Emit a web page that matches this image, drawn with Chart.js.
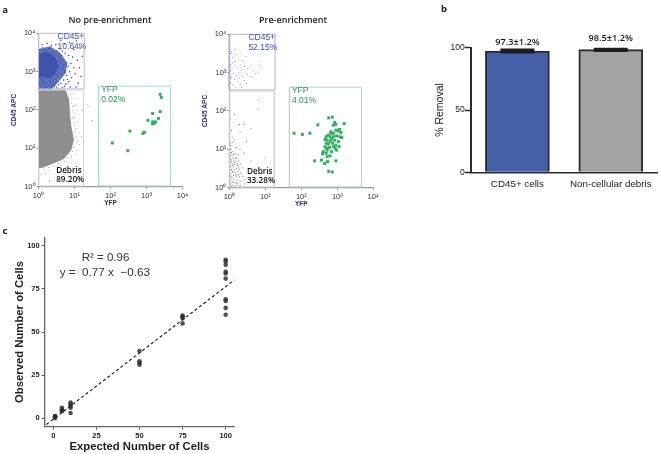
<!DOCTYPE html>
<html><head><meta charset="utf-8">
<style>
html,body{margin:0;padding:0;background:#fff;width:660px;height:454px;overflow:hidden}
canvas{position:absolute}
.t{position:absolute;white-space:nowrap;transform:translate(-50%,-50%);color:#1a1a1a}
</style>
<script src="https://cdn.jsdelivr.net/npm/chart.js@4"></script>
</head><body>
<canvas id="a1" width="195" height="205" style="left:0;top:10px"></canvas>
<canvas id="a2" width="195" height="205" style="left:195px;top:10px"></canvas>
<canvas id="b" width="235" height="180" style="left:425px;top:20px"></canvas>
<canvas id="c" width="245" height="229" style="left:0;top:225px"></canvas>
<script>
/* Flow cytometry values are log10 fluorescence */
const decadeTicks=[0,1,2,3,4];
const decadeLabels=["10⁰","10¹","10²","10³","10⁴"];
const gateCD45=[[0,2.55],[1.27,2.55],[1.27,4],[0,4],[0,2.55]];
const gateDebris=[[0,2.52],[1.25,2.52],[1.25,0.02],[0,0.02],[0,2.52]];
const gateYFP=[[1.67,0.02],[3.67,0.02],[3.67,2.62],[1.67,2.62],[1.67,0.02]];

const debrisCoreA1=[[0,2.52],[0.74,2.52],[0.84,2.26],[0.86,1.91],[0.9,1.57],[0.97,1.22],[0.89,0.94],[0.68,0.72],[0.36,0.6],[0.09,0.5],[0,0.5]];
const debrisEdgeA1=[[0.98,2.42],[1.05,2.3],[1.02,2.12],[1.08,1.98],[1.0,1.82],[1.1,1.7],[1.05,1.52],[1.12,1.4],[1.1,1.2],[1.14,1.1],[1.05,0.95],[1.02,0.85],[0.9,0.75],[0.82,0.62],[0.62,0.55],[0.5,0.46],[0.3,0.42],[0.2,0.36],[0.08,0.33],[0.3,0.15],[0.95,2.1],[1.0,1.6],[0.92,0.82],[1.2,1.3],[1.22,2.0],[1.4,2.1],[1.5,1.72],[0.75,0.5],[0.88,2.42],[0.93,2.3],[0.92,2.18],[0.95,1.98],[0.94,1.78],[0.98,1.66],[1.0,1.45],[1.04,1.3],[1.06,1.16],[0.98,1.02],[0.94,0.92],[0.8,0.76],[0.72,0.66],[0.56,0.6],[0.44,0.54],[0.28,0.5],[0.14,0.44]];
const cd45CoreA1=[[0,3.42],[0.18,3.52],[0.42,3.42],[0.55,3.17],[0.48,2.98],[0.34,2.85],[0.14,2.88],[0,2.84]];
const cd45HaloA1=[[0,3.57],[0.32,3.65],[0.6,3.48],[0.79,3.22],[0.74,2.96],[0.55,2.75],[0.37,2.55],[0,2.55]];
const cd45PointsA1=[[0.05,3.58],[0.12,3.62],[0.2,3.56],[0.28,3.6],[0.36,3.52],[0.42,3.5],[0.48,3.46],[0.55,3.4],[0.6,3.36],[0.66,3.3],[0.62,3.22],[0.7,3.18],[0.76,3.24],[0.82,3.14],[0.68,3.08],[0.6,3.04],[0.74,3.02],[0.58,2.96],[0.66,2.92],[0.52,2.86],[0.6,2.82],[0.46,2.8],[0.54,2.74],[0.42,2.72],[0.38,2.8],[0.3,2.78],[0.24,2.82],[0.34,2.7],[0.28,2.64],[0.2,2.72],[0.14,2.78],[0.08,2.8],[0.04,2.74],[0.12,2.66],[0.06,2.62],[0.18,2.6],[0.24,2.58],[0.36,2.6],[0.44,2.62],[0.5,2.6],[0.02,2.68],[0.1,2.72],[0.16,2.84],[0.32,2.74],[0.4,2.66],[0.48,2.68],[0.56,2.66],[0.62,2.7],[0.7,2.78],[0.78,2.9],[0.86,3.0],[0.92,2.84],[0.84,2.74],[0.72,2.62],[0.66,2.58],[0.98,3.1],[1.02,2.95],[0.9,3.22],[0.95,3.38],[0.84,3.42],[0.74,3.48],[0.66,3.54],[0.58,3.6],[0.48,3.7],[0.36,3.68],[0.24,3.74],[0.1,3.7],[0.72,3.72],[0.98,3.58],[1.08,3.3],[1.14,3.1],[1.18,2.88],[1.1,2.7],[1.04,2.6],[0.88,2.6],[1.22,3.4],[1.15,3.62],[0.86,3.76],[1.05,3.8],[0.62,3.82],[0.55,2.56],[0.3,2.56],[0.15,2.56],[0.76,2.68],[0.8,2.8],[0.6,3.14],[0.56,3.28],[0.64,3.42],[0.5,3.55],[0.02,3.48],[0.02,3.3],[0.02,3.1],[0.72,2.98],[0.5,2.92],[0.42,2.9],[0.36,2.86],[0.25,2.88],[0.08,2.88]];
const strayA1=[[1.36,2.15],[1.5,1.72],[0.3,0.13]];
const yfpA1=[[3.38,2.41],[3.41,2.33],[3.17,1.91],[3.38,1.96],[3.04,1.73],[3.33,1.78],[3.17,1.69],[3.21,1.65],[3.25,1.69],[3.17,1.64],[2.54,1.45],[2.9,1.39],[2.94,1.42],[2.05,1.14],[2.48,0.94]];

const cd45EdgeA2=[[0,3.98],[0,3.85],[0,3.78],[0,3.7],[0,3.62],[0,3.55],[0,3.48],[0,3.42],[0,3.36],[0,3.3],[0,3.25],[0,3.2],[0,3.15],[0,3.1],[0,3.05],[0,3.0],[0,2.95],[0,2.9],[0,2.85],[0,2.8],[0,2.75],[0,2.7],[0,2.65],[0,2.6],[0.02,3.5],[0.02,3.2],[0.02,3.05],[0.02,2.88],[0.02,2.72]];
const cd45PointsA2=[[0.1,3.4],[0.15,3.3],[0.2,3.48],[0.26,3.36],[0.3,3.2],[0.36,3.32],[0.4,3.28],[0.42,3.16],[0.38,3.08],[0.32,3.02],[0.24,3.12],[0.16,3.18],[0.08,3.1],[0.12,2.98],[0.2,2.92],[0.28,2.86],[0.36,2.9],[0.42,2.8],[0.48,2.72],[0.3,2.7],[0.22,2.76],[0.14,2.82],[0.06,2.86],[0.1,2.68],[0.18,2.62],[0.34,2.62],[0.52,3.1],[0.6,3.2],[0.66,3.06],[0.72,2.98],[0.62,2.9],[0.84,3.18],[0.9,3.12],[0.8,3.0],[0.88,3.3],[0.46,3.42],[0.3,3.52],[0.06,3.56],[0.14,3.6],[0.5,2.96],[0.26,3.0],[0.34,3.14],[0.44,3.02],[0.18,3.3],[0.08,3.24]];
const debrisPointsA2=[[0,2.45],[0,2.2],[0,2.0],[0.02,1.8],[0,1.6],[0,1.4],[0,1.25],[0.03,1.1],[0.05,1.0],[0.1,0.95],[0.02,0.9],[0.08,0.82],[0.16,0.88],[0.04,0.75],[0.12,0.72],[0.2,0.78],[0.26,0.7],[0.02,0.65],[0.08,0.62],[0.16,0.6],[0.24,0.58],[0.32,0.62],[0.04,0.55],[0.12,0.52],[0.2,0.5],[0.28,0.48],[0.36,0.52],[0.02,0.46],[0.08,0.42],[0.16,0.4],[0.24,0.42],[0.32,0.38],[0.04,0.36],[0.12,0.32],[0.2,0.3],[0.28,0.28],[0.06,0.26],[0.14,0.22],[0.22,0.2],[0.3,0.18],[0.02,0.2],[0.08,0.16],[0.16,0.12],[0.24,0.1],[0.04,0.1],[0.1,0.06],[0.18,0.05],[0.3,0.06],[0.02,0.05],[0.38,0.3],[0.44,0.22],[0.42,0.1],[0.14,1.25],[0.06,1.5],[0.1,1.18],[0.2,1.05],[0.3,1.0],[0.4,0.9],[0.18,0.68],[0.3,1.45],[0.28,1.65],[0.6,1.55],[0.82,2.3],[0.8,2.05],[0.48,1.2],[1.0,0.78],[0.6,0.7],[0.14,1.92],[0.4,1.65],[0.25,0.86],[0.08,1.32],[0.02,1.15],[0.06,0.92],[0.11,0.86],[0.05,0.68],[0.1,0.58],[0.06,0.48],[0.14,0.46],[0.18,0.34],[0.1,0.26],[0.03,0.3],[0.12,0.14],[0.06,0.04],[0.22,0.62],[0.14,0.66],[0.26,0.52],[0.2,0.14],[0.03,0.84],[0.07,0.72],[0.16,0.76],[0.1,0.4],[0.26,0.34]];
const yfpA2=[[2.76,1.82],[2.86,1.84],[2.46,1.64],[1.8,1.42],[2.03,1.39],[2.24,1.42],[3.19,1.67],[2.93,1.7],[2.96,1.65],[2.89,1.63],[3.06,1.52],[3.1,1.44],[2.96,1.5],[2.89,1.42],[3.02,1.48],[2.82,1.46],[2.75,1.37],[2.69,1.33],[2.8,1.33],[2.89,1.33],[2.98,1.35],[3.07,1.33],[3.12,1.31],[2.66,1.26],[2.72,1.24],[2.84,1.26],[2.93,1.24],[3.03,1.2],[2.8,1.2],[2.69,1.16],[2.75,1.14],[2.87,1.16],[2.96,1.11],[3.05,1.07],[2.66,1.07],[2.78,1.05],[2.89,1.07],[2.98,0.98],[2.72,0.98],[2.61,0.94],[2.69,0.9],[2.59,0.88],[2.84,0.94],[2.8,0.83],[2.72,0.81],[2.37,0.7],[2.56,0.72],[2.65,0.63],[2.73,0.68],[2.96,0.7],[2.76,0.43],[2.86,0.41],[2.94,1.03],[2.82,1.42],[2.7,1.03]];

/* Panel b */
const removalCategories=["CD45+ cells","Non-cellular debris"];
const removalValues=[97.3,98.5];
const removalErrors=[1.2,1.2];
const removalLabels=["97.3±1.2%","98.5±1.2%"];
const removalTicks=[0,50,100];

/* Panel c */
const expectedCells=[1,1,1,1,5,5,5,5,10,10,10,10,10,50,50,50,50,75,75,75,75,100,100,100,100,100,100,100,100,100,100];
const observedCells=[0,0.5,1,1.2,4,4.5,5,6,3,6,7,8,9,31,32,33,39,55,58,59,59.5,60,64,68,69,81,84,85,89,91,92];
const fitX=[-4,105];
const fitY=[-3.7,80.2];
const cellTicks=[0,25,50,75,100];

const textLabels=[
 {text:"a",x:5,y:9,font:"bold 9.5px 'Open Sans'"},
 {text:"b",x:444,y:8,font:"bold 9.5px 'Open Sans'"},
 {text:"c",x:5,y:230,font:"bold 9.5px 'Open Sans'"},
 {text:"No pre-enrichment",x:110,y:19,font:"600 9px 'Open Sans'"},
 {text:"Pre-enrichment",x:293,y:19,font:"600 9px 'Open Sans'"}
];
textLabels.forEach(l=>{const d=document.createElement('div');d.className='t';d.textContent=l.text;
 d.style.left=l.x+'px';d.style.top=l.y+'px';d.style.font=l.font;document.body.appendChild(d);});

const notesPlugin={id:'notes',afterDatasetsDraw(chart,args,opts){
 const c=chart.ctx;c.save();c.textBaseline='middle';
 (opts.items||[]).forEach(n=>{c.font=n.font;c.fillStyle=n.color;c.textAlign=n.align||'left';
  const xs=chart.scales.x,ys=chart.scales.y;
  c.fillText(n.text,xs.getPixelForValue(n.x),ys.getPixelForValue(n.y));});
 c.restore();}};
Chart.register(notesPlugin);

const decToPts=a=>a.map(p=>({x:Math.pow(10,p[0]),y:Math.pow(10,p[1])}));
function pad(cv,box,wy,hx){const r=cv.getBoundingClientRect();
 return {left:box.l-r.left-wy,top:box.t-r.top,right:r.right-box.r,bottom:r.bottom-box.b-hx};}
const sans="'Liberation Sans'";
const navy='#2b2f6e';
const gateDs=(pts,col)=>({type:'scatter',data:decToPts(pts),showLine:true,borderColor:col,borderWidth:1,pointRadius:0,fill:false,clip:false});
const polyDs=(pts,col)=>({type:'line',data:decToPts(pts),borderWidth:1,borderColor:col,backgroundColor:col,pointRadius:0,fill:'shape',tension:0,parsing:false,clip:false});
const dotDs=(pts,col,r,style)=>({type:'scatter',data:decToPts(pts),backgroundColor:col,borderWidth:0,pointRadius:r,pointStyle:style||'circle',clip:false});

function flowOptions(box,cv,notes){
 const wy=28,hx=20;
 const mk=(title,isX)=>({type:'logarithmic',min:1,max:10000,
   afterBuildTicks:s=>{s.ticks=decadeTicks.map(d=>({value:Math.pow(10,d),major:true}));},
   afterFit:s=>{if(isX)s.height=hx;else s.width=wy;},
   grid:{display:true,drawOnChartArea:false,drawTicks:true,tickLength:2,tickColor:'#888'},
   border:{display:true,color:'#9a9a9a',width:1.2},
   ticks:{autoSkip:false,maxRotation:0,padding:isX?3:1,font:{family:sans,size:7.5},color:'#333',
     callback:(v)=>decadeLabels[decadeTicks.indexOf(Math.round(Math.log10(v)))]},
   title:{display:true,text:title,color:navy,font:{family:sans,size:6.5,weight:'bold'},padding:0}});
 return {responsive:false,animation:false,layout:{padding:pad(cv,box,wy,hx)},
  plugins:{legend:{display:false},tooltip:{enabled:false},notes:{items:notes}},
  scales:{x:mk('YFP',true),y:mk('CD45 APC',false)}};
}
const blue='#3f51a3',green='#2f8f55';
const fn="8.5px "+sans, fb="600 8.2px 'Open Sans'";
function gateNotes(p1){return [
 {text:"CD45+",x:Math.pow(10,0.53),y:Math.pow(10,3.9),font:fn,color:blue},
 {text:p1[0],x:Math.pow(10,0.53),y:Math.pow(10,3.64),font:fn,color:blue},
 {text:"Debris",x:Math.pow(10,0.49),y:Math.pow(10,0.43),font:fb,color:'#111'},
 {text:p1[1],x:Math.pow(10,0.49),y:Math.pow(10,0.19),font:fb,color:'#111'},
 {text:"YFP",x:Math.pow(10,1.74),y:Math.pow(10,2.53),font:fn,color:green},
 {text:p1[2],x:Math.pow(10,1.74),y:Math.pow(10,2.27),font:fn,color:green}];}

/* Listed bottom-most first; Chart.js paints the first dataset last, so the list is reversed */
const cvA1=document.getElementById('a1');
new Chart(cvA1,{data:{datasets:[
  polyDs(debrisCoreA1,'#8e8e8e'),
  dotDs(debrisEdgeA1,'#a8a8a8',0.6),dotDs(strayA1,'#999',0.5),
  polyDs(cd45HaloA1,'#6073bf'),polyDs(cd45CoreA1,'#3f53ad'),dotDs(cd45PointsA1,'#3f53ad',0.8),
  gateDs(gateCD45,'#b8bcd0'),gateDs(gateDebris,'#d2d2d2'),gateDs(gateYFP,'#a9dcc8'),
  dotDs(yfpA1,'#2fae5e',2.1,'rect')].reverse()},
 options:flowOptions({l:38.5,r:182.5,t:33.3,b:186.7},cvA1,gateNotes(["10.64%","89.20%","0.02%"]))});

const cvA2=document.getElementById('a2');
new Chart(cvA2,{data:{datasets:[
  dotDs(debrisPointsA2,'#808080',0.6),dotDs(cd45EdgeA2,'#5a68b0',0.8),dotDs(cd45PointsA2,'#7f86a8',0.5),
  gateDs(gateCD45,'#a9b3d2'),gateDs(gateDebris,'#d2d2d2'),gateDs(gateYFP,'#a9dcc8'),
  dotDs(yfpA2,'#2fae5e',2.1,'rect')].reverse()},
 options:flowOptions({l:229.3,r:373.3,t:34.3,b:187.7},cvA2,gateNotes(["52.15%","33.28%","4.01%"]))});

const cvB=document.getElementById('b');
const dark='#2b2b2b';
new Chart(cvB,{type:'bar',data:{labels:removalCategories,datasets:[
  {data:removalValues.map((v,i)=>[v-removalErrors[i],v+removalErrors[i]]),backgroundColor:'#1c1c1c',barThickness:32,borderWidth:0,inflateAmount:1,grouped:false,order:0},
  {data:removalValues,backgroundColor:['#4560a8','#a3a3a6'],borderColor:dark,borderWidth:2,borderSkipped:'bottom',barThickness:64,grouped:false,order:1}]},
 options:{responsive:false,animation:false,layout:{padding:pad(cvB,{l:470.7,r:657.5,t:47.7,b:172.3},46,20)},
  plugins:{legend:{display:false},tooltip:{enabled:false},notes:{items:[
    {text:removalLabels[0],x:0,y:104.6,align:'center',font:"600 9.2px 'Open Sans'",color:'#1a1a1a'},
    {text:removalLabels[1],x:1,y:107.5,align:'center',font:"600 9.2px 'Open Sans'",color:'#1a1a1a'}]}},
  scales:{
   x:{type:'category',offset:true,afterFit:s=>{s.height=20;},grid:{display:false,drawTicks:false},border:{display:true,color:dark,width:1.6},
      ticks:{padding:6,maxRotation:0,autoSkip:false,font:{family:sans,size:9.8},color:'#222'}},
   y:{type:'linear',min:0,max:100,afterBuildTicks:s=>{s.ticks=removalTicks.map(v=>({value:v}));},afterFit:s=>{s.width=46;},
      grid:{display:true,drawOnChartArea:false,drawTicks:true,tickLength:6,tickColor:dark,tickWidth:1.5},border:{display:true,color:dark,width:2},
      ticks:{padding:0,font:{family:sans,size:8.5},color:'#222'},
      title:{display:true,text:'% Removal',color:'#222',font:{family:sans,size:10.5},padding:{top:9,bottom:0}}}}}});

const cvC=document.getElementById('c');
const axisC=(title,isX,size)=>({type:'linear',min:-5,max:105,
  afterBuildTicks:s=>{s.ticks=cellTicks.map(v=>({value:v}));},
  afterFit:s=>{if(isX)s.height=size;else s.width=size;},
  grid:{display:true,drawOnChartArea:false,drawTicks:true,tickLength:3,tickColor:'#555',tickWidth:1},
  border:{display:true,color:'#666',width:1.3},
  ticks:{padding:2,autoSkip:false,maxRotation:0,font:{family:sans,size:7.5,weight:'bold'},color:'#222'},
  title:{display:true,text:title,color:'#222',font:{family:sans,size:11.3,weight:'bold'},padding:{top:isX?1:9,bottom:isX?3:0}}});
new Chart(cvC,{data:{datasets:[
  {type:'scatter',data:expectedCells.map((x,i)=>({x,y:observedCells[i]})),backgroundColor:'rgba(45,45,45,0.82)',borderWidth:0,pointRadius:2.3,clip:false},
  {type:'scatter',data:fitX.map((x,i)=>({x,y:fitY[i]})),showLine:true,borderColor:'#111',borderWidth:1.1,borderDash:[3,2.5],pointRadius:0,clip:false}]},
 options:{responsive:false,animation:false,layout:{padding:pad(cvC,{l:44.7,r:234.3,t:237.3,b:426.7},41,30)},
  plugins:{legend:{display:false},tooltip:{enabled:false},notes:{items:[
    {text:"R² = 0.96",x:30.3,y:92.8,align:'center',font:"11.5px "+sans,color:'#333'},
    {text:"y =  0.77 x  −0.63",x:3.7,y:84.5,font:"11.7px "+sans,color:'#333'}]}},
  scales:{x:axisC('Expected Number of Cells',true,30),y:axisC('Observed Number of Cells',false,41)}}});
</script>
</body></html>
